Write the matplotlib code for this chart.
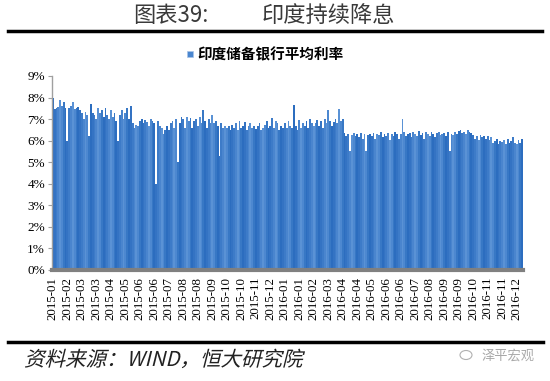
import matplotlib
matplotlib.use("Agg")
import matplotlib.pyplot as plt
from matplotlib.textpath import TextPath
from matplotlib.patches import PathPatch, Rectangle, Ellipse
from matplotlib.font_manager import FontProperties
from matplotlib.transforms import Affine2D
from matplotlib.lines import Line2D

plt.rcParams['font.family'] = ['Noto Sans CJK SC', 'DejaVu Sans']

# 印度储备银行平均利率 (%), 8 obs per tick label
rates = [
    8.0, 7.45, 7.5, 7.55, 7.9, 7.6, 7.8, 7.5,
    6.0, 7.5, 7.6, 7.8, 7.45, 7.5, 7.55, 7.4,
    7.3, 7.0, 7.35, 7.2, 6.2, 7.7, 7.3, 7.2,
    7.0, 7.5, 7.3, 7.4, 7.1, 7.5, 7.2, 7.0,
    7.4, 7.1, 7.3, 6.9, 6.0, 7.2, 7.4, 7.0,
    7.3, 7.5, 7.0, 7.6, 6.8, 6.6, 6.75, 6.7,
    6.9, 7.0, 6.8, 6.95, 6.85, 6.7, 7.0, 6.9,
    6.8, 4.0, 6.9, 6.7, 6.6, 6.3, 6.5, 6.7,
    6.5, 6.8, 6.9, 6.6, 7.0, 5.0, 6.8, 7.1,
    7.0, 6.6, 7.1, 6.9, 7.05, 6.6, 6.9, 7.0,
    6.7, 7.1, 6.8, 7.4, 6.9, 6.6, 7.0, 6.8,
    7.2, 6.8, 6.9, 6.7, 5.3, 6.8, 6.6, 6.7,
    6.6, 6.7, 6.5, 6.75, 6.6, 6.8, 6.5, 6.9,
    6.6, 6.7, 6.85, 6.5, 6.7, 6.8, 6.6, 6.7,
    6.55, 6.7, 6.8, 6.5, 6.6, 6.75, 6.9, 6.6,
    6.7, 7.05, 6.6, 6.9, 6.8, 6.5, 6.7, 6.6,
    6.8, 6.6, 6.9, 6.7, 6.6, 7.64, 6.7, 6.5,
    6.97, 6.6, 6.8, 6.7, 6.9, 6.6, 7.0, 6.8,
    6.7, 6.8, 6.95, 6.7, 6.9, 6.6, 7.0, 6.8,
    7.4, 6.9, 6.7, 6.85, 7.0, 6.8, 7.48, 6.9,
    7.0, 6.35, 6.2, 6.3, 5.5, 6.25, 6.35, 6.2,
    6.3, 6.15, 6.35, 6.1, 6.3, 5.5, 6.25, 6.3,
    6.2, 6.35, 6.1, 6.3, 6.25, 6.4, 6.15, 6.3,
    6.2, 6.35, 6.05, 6.3, 6.2, 6.4, 6.3, 6.1,
    6.3, 7.0, 6.4, 6.2, 6.3, 6.35, 6.15, 6.4,
    6.3, 6.2, 6.45, 6.25, 6.35, 6.1, 6.4, 6.3,
    6.2, 6.4, 6.3, 6.15, 6.35, 6.4, 6.25, 6.3,
    6.35, 6.2, 6.4, 5.5, 6.3, 6.25, 6.4, 6.3,
    6.45, 6.5, 6.35, 6.4, 6.3, 6.5, 6.4, 6.35,
    6.25, 6.1, 6.2, 6.05, 6.25, 6.15, 6.2, 6.1,
    6.2, 6.05, 6.15, 5.9, 6.0, 6.1, 5.85, 6.0,
    5.95, 6.05, 5.85, 6.1, 5.9, 6.0, 6.15, 5.9,
    5.85, 6.05, 5.9, 6.1,
]

tick_labels = [
    '2015-01', '2015-02', '2015-03', '2015-03', '2015-04', '2015-05',
    '2015-06', '2015-06', '2015-07', '2015-08', '2015-08', '2015-09',
    '2015-10', '2015-10', '2015-11', '2015-12',
    '2016-01', '2016-01', '2016-02', '2016-03', '2016-04', '2016-04',
    '2016-05', '2016-06', '2016-06', '2016-07', '2016-08', '2016-09',
    '2016-09', '2016-10', '2016-11', '2016-11', '2016-12',
]
tick_step = 8

shades = ['#2c6dbf', '#3473c3', '#3d7bc8', '#4a85ce', '#5a92d5', '#4d88d0', '#3878c5']

fig = plt.figure(figsize=(5.5, 3.81), dpi=100)
ax = fig.add_axes([52 / 550, 111 / 381, 471 / 550, 194 / 381])

x = list(range(len(rates)))
colors = [shades[i % len(shades)] for i in x]
ax.bar(x, rates, width=1.0, color=colors, linewidth=0)

ax.set_xlim(-0.5, len(rates) - 0.5)
ax.set_ylim(0, 9)
ax.set_yticks(range(0, 10))
ax.set_yticklabels([f'{v}%' for v in range(0, 10)], family='Liberation Serif', fontsize=9.5)
ax.set_xticks(list(range(0, len(tick_labels) * tick_step, tick_step)))
ax.set_xticklabels(tick_labels, rotation=90, family='Liberation Serif', fontsize=9.3)
ax.tick_params(axis='x', length=0, pad=5)
ax.tick_params(axis='y', length=3, color='#a0a0a0', pad=2)

for s in ['top', 'right']:
    ax.spines[s].set_visible(False)
ax.spines['left'].set_color('#a0a0a0')
ax.spines['left'].set_linewidth(1)
ax.spines['bottom'].set_color('#808080')
ax.spines['bottom'].set_linewidth(3)

# title
fig.text(133 / 550, 1 - 16 / 381, '图表39:', fontsize=16, fontweight='light', color='#3a3a3a',
         va='center', ha='left')
fig.text(262 / 550, 1 - 16 / 381, '印度持续降息', fontsize=16, fontweight='light', color='#3a3a3a',
         va='center', ha='left')
fig.add_artist(Line2D([8 / 550, 542 / 550], [1 - 30.5 / 381, 1 - 30.5 / 381], color='black', lw=2.5))

# legend
fig.add_artist(Rectangle((187 / 550, 1 - 57 / 381), 6 / 550, 6 / 381, facecolor='#4a86cf',
                         edgecolor='#a9c4e8', lw=0.5))
fig.text(197 / 550, 1 - 54 / 381, '印度储备银行平均利率', fontsize=10.5, fontweight='bold',
         va='center', ha='left')

# bottom line and source note (slanted)
fig.add_artist(Line2D([8 / 550, 543 / 550], [1 - 341.5 / 381, 1 - 341.5 / 381], color='black', lw=2.5))
fp = FontProperties(family='Noto Sans CJK SC')
tp = TextPath((0, 0), '资料来源：WIND，恒大研究院', size=20.5, prop=fp)
tr = Affine2D().skew_deg(14, 0).translate(24, 381 - 366).scale(1 / 100) + fig.dpi_scale_trans
fig.add_artist(PathPatch(tp, transform=tr, facecolor='#222222', edgecolor='none'))

# watermark
fig.add_artist(Ellipse((466 / 550, 1 - 355 / 381), 12 / 550, 9 / 381, facecolor='none',
                       edgecolor='#b0b0b0', lw=0.8))
fig.text(481 / 550, 1 - 356 / 381, '泽平宏观', fontsize=9.5, color='#a8a8a8', va='center', ha='left')

fig.savefig('out.png', dpi=100)
